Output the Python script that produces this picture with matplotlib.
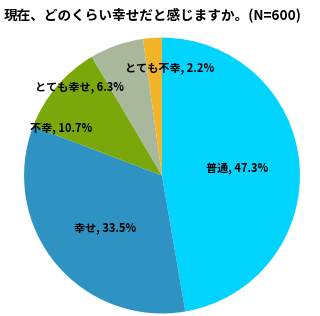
import matplotlib
matplotlib.use('Agg')
import matplotlib.pyplot as plt
import numpy as np

plt.rcParams['font.family'] = ['Noto Sans CJK JP', 'DejaVu Sans']

# データ
labels = ['普通', '幸せ', '不幸', 'とても幸せ', 'とても不幸']
values = [47.3, 33.5, 10.7, 6.3, 2.2]
colors = ['#00D4FF', '#2E93C2', '#7AA80A', '#A9B89B', '#F2B52A']
title = '現在、どのくらい幸せだと感じますか。(N=600)'

# ラベル位置 (角度, 半径)
label_pos = [(5, 0.55), (-137, 0.56), (154.6, 0.81), (133, 0.88), (86, 0.78)]

fig = plt.figure(figsize=(3.2, 3.16), dpi=100)
ax = fig.add_axes([0.075, 0.008, 0.8625, 0.873])
ax.pie(values, colors=colors, startangle=90, counterclock=False,
       wedgeprops=dict(linewidth=0))
ax.set_xlim(-1, 1)
ax.set_ylim(-1, 1)

for lab, v, (ang, r) in zip(labels, values, label_pos):
    t = np.deg2rad(ang)
    ax.text(r * np.cos(t), r * np.sin(t), '{}, {}%'.format(lab, v),
            ha='center', va='center', fontsize=8, fontweight='bold')

fig.text(0.012, 0.955, title, fontsize=9.8, fontweight='bold',
         ha='left', va='center')

fig.savefig('out.png', dpi=100)
